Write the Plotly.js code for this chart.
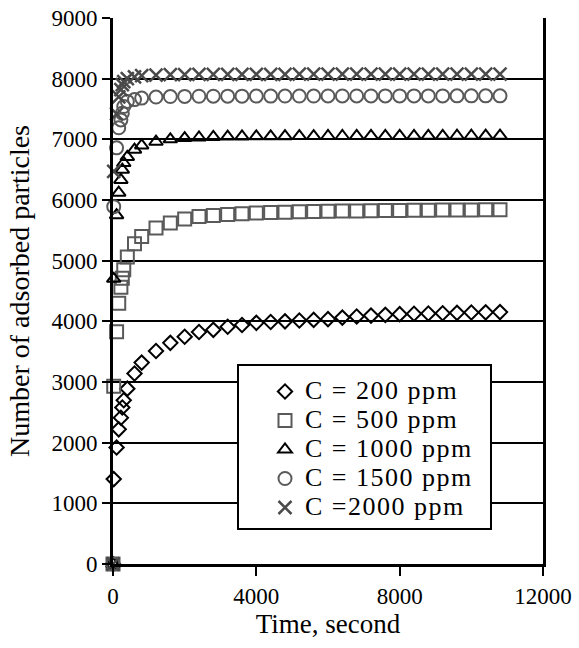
<!DOCTYPE html>
<html>
<head>
<meta charset="utf-8">
<script src="https://cdn.plot.ly/plotly-3.0.1.min.js"></script>
<style>html,body{margin:0;padding:0;background:#fff;}#chart{width:579px;height:648px;}</style>
</head>
<body>
<div id="chart"></div>
<script>
// Time, second
var time = [0, 20, 100, 160, 220, 260, 300, 400, 600,
  800, 1200, 1600, 2000, 2400, 2800, 3200, 3600, 4000, 4400, 4800, 5200, 5600,
  6000, 6400, 6800, 7200, 7600, 8000, 8400, 8800, 9200, 9600, 10000, 10400, 10800];

var c200 = [0, 1400, 1920, 2220, 2410, 2580, 2700, 2890, 3140,
  3320, 3510, 3645, 3745, 3825, 3860, 3910, 3940, 3975, 3990, 4000, 4013, 4024,
  4036, 4062, 4079, 4095, 4107, 4118, 4124, 4129, 4134, 4140, 4145, 4148, 4152];

var c500 = [0, 2930, 3830, 4300, 4560, 4710, 4850, 5060, 5280,
  5400, 5540, 5620, 5685, 5730, 5745, 5760, 5773, 5784, 5795, 5800, 5805, 5810,
  5813, 5817, 5820, 5823, 5826, 5828, 5830, 5832, 5834, 5836, 5837, 5838, 5840];

var c1000 = [0, 4700, 5750, 6120, 6330, 6500, 6610, 6710, 6830,
  6900, 6960, 7000, 7020, 7030, 7040, 7045, 7048, 7050, 7050, 7052, 7053, 7054,
  7055, 7055, 7056, 7056, 7057, 7057, 7058, 7058, 7058, 7059, 7059, 7060, 7060];

var c1500 = [0, 5890, 6860, 7190, 7320, 7430, 7540, 7625, 7655,
  7680, 7697, 7705, 7708, 7710, 7711, 7712, 7712, 7713, 7713, 7714, 7714, 7714,
  7715, 7715, 7715, 7715, 7716, 7716, 7716, 7716, 7716, 7717, 7717, 7717, 7717];

var c2000 = [0, 6470, 7420, 7700, 7820, 7900, 7950, 8000, 8030,
  8050, 8060, 8065, 8068, 8070, 8070, 8071, 8071, 8072, 8072, 8072, 8073, 8073,
  8073, 8073, 8074, 8074, 8074, 8074, 8075, 8075, 8075, 8075, 8075, 8076, 8076];

var seriesNames = ['C = 200 ppm', 'C = 500 ppm', 'C = 1000 ppm', 'C = 1500 ppm', 'C =2000 ppm'];
var xTicks = [0, 4000, 8000, 12000];
var yTicks = [0, 1000, 2000, 3000, 4000, 5000, 6000, 7000, 8000, 9000];

var FONT = 'Liberation Serif';
function nm(s) {
  return '<span style="font-size:26px;letter-spacing:1.5px">' + s + '</span>';
}

var styles = [
  {symbol: 'diamond-open', size: 11, color: '#000000', w: 2},
  {symbol: 'square-open', size: 13, color: '#5a5a5a', w: 2},
  {symbol: 'triangle-up-open', size: 12, color: '#000000', w: 2},
  {symbol: 'circle-open', size: 13, color: '#5a5a5a', w: 2},
  {symbol: 'x-thin-open', size: 13, color: '#4a4a4a', w: 2.5}
];
var ys = [c200, c500, c1000, c1500, c2000];

var traces = ys.map(function (y, i) {
  var s = styles[i];
  return {
    x: time, y: y, type: 'scatter', mode: 'markers', name: nm(seriesNames[i]),
    cliponaxis: false,
    marker: {symbol: s.symbol, size: s.size, color: s.color,
             line: {color: s.color, width: s.w}}
  };
});

var layout = {
  width: 579, height: 648,
  margin: {l: 113, r: 36, t: 18, b: 84, pad: 0},
  paper_bgcolor: '#ffffff', plot_bgcolor: '#ffffff',
  font: {family: FONT, color: '#000000', size: 23},
  showlegend: true,
  legend: {
    x: (265 - 113) / 430, xanchor: 'left',
    y: (564 - 372) / 546, yanchor: 'top',
    bgcolor: 'rgba(0,0,0,0)', borderwidth: 0,
    font: {family: FONT, size: 20, color: '#000000'},
    itemsizing: 'trace'
  },
  xaxis: {
    range: [0, 12000], tickvals: xTicks, ticktext: xTicks.map(String),
    showgrid: false, zeroline: false,
    showline: true, linecolor: '#000000', linewidth: 3, mirror: false,
    ticks: 'outside', ticklen: 9, tickwidth: 2, tickcolor: '#000000',
    tickfont: {family: FONT, size: 23, color: '#000000'},
    title: {text: 'Time, second', font: {family: FONT, size: 27, color: '#000000'}, standoff: 2}
  },
  yaxis: {
    range: [0, 9000], tickvals: yTicks, ticktext: yTicks.map(String),
    showgrid: true, gridcolor: '#000000', gridwidth: 2, zeroline: false,
    showline: true, linecolor: '#000000', linewidth: 3, mirror: true,
    ticks: 'outside', ticklen: 8, tickwidth: 2, tickcolor: '#000000',
    tickfont: {family: FONT, size: 23, color: '#000000'},
    title: {text: 'Number of adsorbed particles', font: {family: FONT, size: 28, color: '#000000'}, standoff: 14}
  },
  shapes: [{
    type: 'rect', xref: 'paper', yref: 'paper', layer: 'above',
    x0: (238 - 113) / 430, x1: (491 - 113) / 430,
    y0: (564 - 529) / 546, y1: (564 - 365) / 546,
    fillcolor: '#ffffff', line: {color: '#000000', width: 2}
  }]
};

Plotly.newPlot('chart', traces, layout, {displayModeBar: false, staticPlot: true});
</script>
</body>
</html>
